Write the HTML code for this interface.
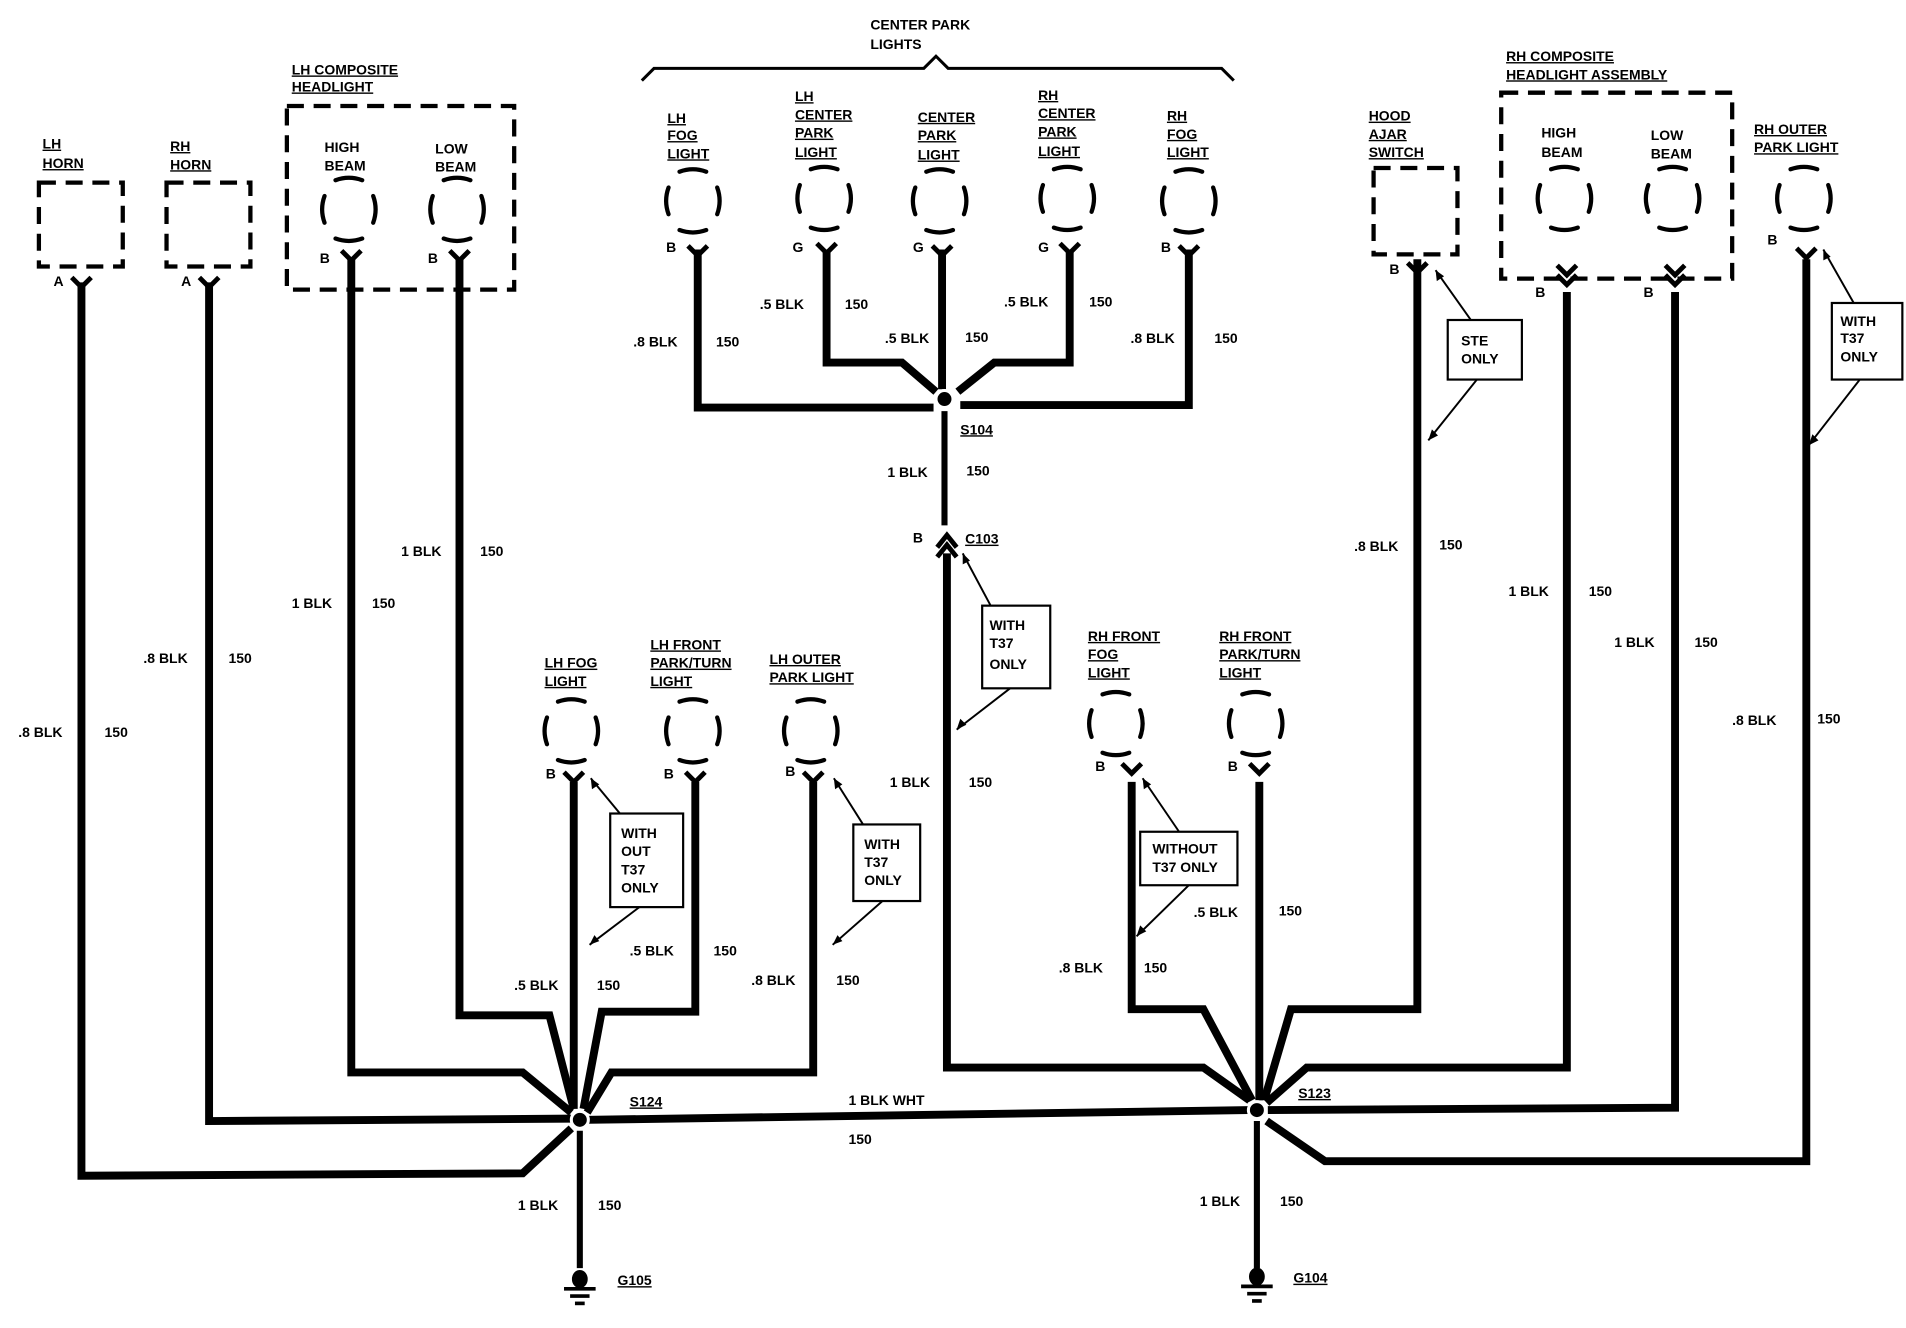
<!DOCTYPE html>
<html><head><meta charset="utf-8"><style>
html,body{margin:0;padding:0;background:#fff}
svg{display:block}
text{font-family:"Liberation Sans",sans-serif;font-weight:bold;font-size:11.5px;fill:#000}
</style></head><body>
<svg width="1906" height="1328" viewBox="0 0 1568 1092" xmlns="http://www.w3.org/2000/svg">
<defs>
<g id="b" fill="none" stroke="#000" stroke-width="3.5" stroke-linecap="round">
<path d="M-11,-24 Q0,-28 11,-24"/><path d="M-11,24 Q0,28 11,24"/>
<path d="M-20,-11 Q-24,0 -20,11"/><path d="M20,-11 Q24,0 20,11"/>
</g>
<path id="y" d="M-8,-8 L0,0 L8,-8" fill="none" stroke="#000" stroke-width="4"/>
</defs>
<rect width="1568" height="1092" fill="#fff"/>
<g fill="none" stroke="#000" stroke-width="6.5" stroke-linejoin="miter">
<!-- left -->
<polyline points="67,232 67,967 430,965 470,928"/>
<polyline points="172,232 172,922 470,920"/>
<polyline points="289,213 289,882 430,882 470,915"/>
<polyline points="378,213 378,835 452,835 472,912"/>
<polyline points="472,643 472,912"/>
<polyline points="572,643 572,832 495,832 480,912"/>
<polyline points="669,643 669,882 503,882 483,915"/>
<polyline points="484,921 1027,913"/>
<line x1="477" y1="930" x2="477" y2="1043" stroke-width="5"/>
<!-- center -->
<polyline points="574,205 574,335 768,335"/>
<polyline points="680,205 680,298 742,298 770,322"/>
<polyline points="775,205 775,320"/>
<polyline points="880,205 880,298 818,298 788,322"/>
<polyline points="978,205 978,333 790,333"/>
<line x1="777" y1="338" x2="777" y2="432" stroke-width="5"/>
<polyline points="779,455 779,878 990,878 1028,905"/>
<!-- right -->
<polyline points="931,643 931,830 990,830 1030,905"/>
<polyline points="1036,643 1036,905"/>
<polyline points="1166,213 1166,830 1062,830 1040,905"/>
<polyline points="1289,240 1289,878 1075,878 1042,907"/>
<polyline points="1378,240 1378,911 1043,913"/>
<polyline points="1486,213 1486,955 1090,955 1042,922"/>
<line x1="1034" y1="922" x2="1034" y2="1043" stroke-width="5"/>
</g>
<!-- splices -->
<circle cx="477" cy="921" r="7" fill="#000" stroke="#fff" stroke-width="2.5"/>
<circle cx="1034" cy="913" r="7" fill="#000" stroke="#fff" stroke-width="2.5"/>
<circle cx="777" cy="328" r="7" fill="#000" stroke="#fff" stroke-width="2.5"/>
<!-- C103 -->
<path d="M771,450 L779,440 L787,450" fill="none" stroke="#000" stroke-width="4"/>
<path d="M771,458 L779,448 L787,458" fill="none" stroke="#000" stroke-width="4"/>
<!-- grounds -->
<g stroke="#000" stroke-width="3">
<ellipse cx="477" cy="1052" rx="5" ry="6" fill="#000"/>
<line x1="464" y1="1060" x2="490" y2="1060"/><line x1="469" y1="1066" x2="485" y2="1066"/><line x1="473" y1="1072" x2="481" y2="1072"/>
<ellipse cx="1034" cy="1050" rx="5" ry="6" fill="#000"/>
<line x1="1021" y1="1058" x2="1047" y2="1058"/><line x1="1026" y1="1064" x2="1042" y2="1064"/><line x1="1030" y1="1070" x2="1038" y2="1070"/>
</g>
<!-- dashed boxes -->
<g fill="none" stroke="#000" stroke-width="3.5" stroke-dasharray="14,8">
<rect x="32" y="150" width="69" height="69"/>
<rect x="137" y="150" width="69" height="69"/>
<rect x="236" y="87" width="187" height="151"/>
<rect x="1130" y="138" width="69" height="71"/>
<rect x="1235" y="76" width="190" height="153"/>
</g>
<!-- bulbs -->
<use href="#b" x="287" y="172"/><use href="#b" x="376" y="172"/>
<use href="#b" x="570" y="165"/><use href="#b" x="678" y="163"/><use href="#b" x="773" y="165"/><use href="#b" x="878" y="163"/><use href="#b" x="978" y="165"/>
<use href="#b" x="1287" y="163"/><use href="#b" x="1376" y="163"/><use href="#b" x="1484" y="163"/>
<use href="#b" x="470" y="601"/><use href="#b" x="570" y="601"/><use href="#b" x="667" y="601"/>
<use href="#b" x="918" y="595"/><use href="#b" x="1033" y="595"/>
<!-- Y connectors -->
<use href="#y" x="67" y="236"/><use href="#y" x="172" y="236"/>
<use href="#y" x="289" y="214"/><use href="#y" x="378" y="214"/>
<use href="#y" x="574" y="210"/><use href="#y" x="680" y="208"/><use href="#y" x="775" y="210"/><use href="#y" x="880" y="208"/><use href="#y" x="978" y="210"/>
<use href="#y" x="1166" y="224"/><use href="#y" x="1289" y="226"/><use href="#y" x="1289" y="234"/><use href="#y" x="1378" y="226"/><use href="#y" x="1378" y="234"/><use href="#y" x="1486" y="212"/>
<use href="#y" x="472" y="643"/><use href="#y" x="572" y="643"/><use href="#y" x="669" y="643"/>
<use href="#y" x="931" y="636"/><use href="#y" x="1036" y="636"/>
<!-- brace -->
<path d="M528,66 L538,56 L760,56 L770,46 L780,56 L1005,56 L1015,66" fill="none" stroke="#000" stroke-width="2.5"/>
<!-- note boxes -->
<g fill="#fff" stroke="#000" stroke-width="1.8">
<rect x="502" y="669" width="60" height="77"/>
<rect x="702" y="678" width="55" height="63"/>
<rect x="808" y="498" width="56" height="68"/>
<rect x="938" y="684" width="80" height="44"/>
<rect x="1191" y="263" width="61" height="49"/>
<rect x="1507" y="249" width="58" height="63"/>
</g>
<g fill="none" stroke="#000" stroke-width="1.6">
<path d="M486,640 L510,669"/><path d="M526,746 L485,777"/>
<path d="M686,640 L710,678"/><path d="M726,741 L685,777"/>
<path d="M792,455 L815,498"/><path d="M831,566 L787,600"/>
<path d="M940,640 L970,684"/><path d="M978,728 L935,770"/>
<path d="M1181,222 L1210,263"/><path d="M1215,312 L1175,362"/>
<path d="M1500,205 L1525,249"/><path d="M1530,312 L1488,366"/>
</g>
<g fill="#000">
<path d="M486,640 l1,9 l6,-4z"/><path d="M485,777 l4,-8 l4,5z"/>
<path d="M686,640 l1,9 l6,-4z"/><path d="M685,777 l4,-8 l4,5z"/>
<path d="M792,455 l0,9 l6,-3z"/><path d="M787,600 l3,-9 l5,5z"/>
<path d="M940,640 l1,9 l6,-4z"/><path d="M935,770 l3,-9 l5,5z"/>
<path d="M1181,222 l1,9 l6,-4z"/><path d="M1175,362 l3,-9 l5,5z"/>
<path d="M1500,205 l0,9 l6,-3z"/><path d="M1488,366 l3,-9 l5,5z"/>
</g>
<g>
<text x="511" y="689">WITH</text><text x="511" y="704">OUT</text><text x="511" y="719">T37</text><text x="511" y="734">ONLY</text>
<text x="711" y="698">WITH</text><text x="711" y="713">T37</text><text x="711" y="728">ONLY</text>
<text x="814" y="518">WITH</text><text x="814" y="533">T37</text><text x="814" y="550">ONLY</text>
<text x="948" y="702">WITHOUT</text><text x="948" y="717">T37 ONLY</text>
<text x="1202" y="284">STE</text><text x="1202" y="299">ONLY</text>
<text x="1514" y="268">WITH</text><text x="1514" y="282">T37</text><text x="1514" y="297">ONLY</text>
</g>
<!-- titles -->
<g text-decoration="underline">
<text x="35" y="122" style="text-decoration:none">LH</text><text x="35" y="138">HORN</text>
<text x="140" y="124" style="text-decoration:none">RH</text><text x="140" y="139">HORN</text>
<text x="240" y="61">LH COMPOSITE</text><text x="240" y="75">HEADLIGHT</text>
<text x="549" y="101" style="text-decoration:none">LH</text><text x="549" y="115" style="text-decoration:none">FOG</text><text x="549" y="130">LIGHT</text>
<text x="654" y="83" style="text-decoration:none">LH</text><text x="654" y="98" style="text-decoration:none">CENTER</text><text x="654" y="113" style="text-decoration:none">PARK</text><text x="654" y="129">LIGHT</text>
<text x="755" y="100" style="text-decoration:none">CENTER</text><text x="755" y="115" style="text-decoration:none">PARK</text><text x="755" y="131">LIGHT</text>
<text x="854" y="82" style="text-decoration:none">RH</text><text x="854" y="97" style="text-decoration:none">CENTER</text><text x="854" y="112" style="text-decoration:none">PARK</text><text x="854" y="128">LIGHT</text>
<text x="960" y="99" style="text-decoration:none">RH</text><text x="960" y="114" style="text-decoration:none">FOG</text><text x="960" y="129">LIGHT</text>
<text x="1126" y="99" style="text-decoration:none">HOOD</text><text x="1126" y="114" style="text-decoration:none">AJAR</text><text x="1126" y="129">SWITCH</text>
<text x="1239" y="50">RH COMPOSITE</text><text x="1239" y="65">HEADLIGHT ASSEMBLY</text>
<text x="1443" y="110">RH OUTER</text><text x="1443" y="125">PARK LIGHT</text>
<text x="448" y="549">LH FOG</text><text x="448" y="564">LIGHT</text>
<text x="535" y="534" style="text-decoration:none">LH FRONT</text><text x="535" y="549">PARK/TURN</text><text x="535" y="564">LIGHT</text>
<text x="633" y="546">LH OUTER</text><text x="633" y="561">PARK LIGHT</text>
<text x="895" y="527" style="text-decoration:none">RH FRONT</text><text x="895" y="542" style="text-decoration:none">FOG</text><text x="895" y="557">LIGHT</text>
<text x="1003" y="527" style="text-decoration:none">RH FRONT</text><text x="1003" y="542">PARK/TURN</text><text x="1003" y="557">LIGHT</text>
<text x="518" y="910">S124</text><text x="1068" y="903">S123</text><text x="790" y="357">S104</text><text x="794" y="447">C103</text>
<text x="508" y="1057">G105</text><text x="1064" y="1055">G104</text>
</g>
<g>
<text x="716" y="24">CENTER PARK</text><text x="716" y="40">LIGHTS</text>
<text x="267" y="125">HIGH</text><text x="267" y="140">BEAM</text>
<text x="358" y="126">LOW</text><text x="358" y="141">BEAM</text>
<text x="1268" y="113">HIGH</text><text x="1268" y="129">BEAM</text>
<text x="1358" y="115">LOW</text><text x="1358" y="130">BEAM</text>
<text x="44" y="235" font-size="9">A</text><text x="149" y="235" font-size="9">A</text>
<text x="263" y="216" font-size="9">B</text><text x="352" y="216" font-size="9">B</text>
<text x="548" y="207" font-size="9">B</text><text x="652" y="207" font-size="9">G</text><text x="751" y="207" font-size="9">G</text><text x="854" y="207" font-size="9">G</text><text x="955" y="207" font-size="9">B</text>
<text x="1143" y="225" font-size="9">B</text><text x="1263" y="244" font-size="9">B</text><text x="1352" y="244" font-size="9">B</text><text x="1454" y="201" font-size="9">B</text>
<text x="449" y="640" font-size="9">B</text><text x="546" y="640" font-size="9">B</text><text x="646" y="638" font-size="9">B</text>
<text x="901" y="634" font-size="9">B</text><text x="1010" y="634" font-size="9">B</text><text x="751" y="446" font-size="9">B</text>
<text x="15" y="606">.8 BLK</text><text x="86" y="606">150</text>
<text x="118" y="545">.8 BLK</text><text x="188" y="545">150</text>
<text x="240" y="500">1 BLK</text><text x="306" y="500">150</text>
<text x="330" y="457">1 BLK</text><text x="395" y="457">150</text>
<text x="521" y="285">.8 BLK</text><text x="589" y="285">150</text>
<text x="625" y="254">.5 BLK</text><text x="695" y="254">150</text>
<text x="728" y="282">.5 BLK</text><text x="794" y="281">150</text>
<text x="826" y="252">.5 BLK</text><text x="896" y="252">150</text>
<text x="930" y="282">.8 BLK</text><text x="999" y="282">150</text>
<text x="730" y="392">1 BLK</text><text x="795" y="391">150</text>
<text x="732" y="647">1 BLK</text><text x="797" y="647">150</text>
<text x="423" y="814">.5 BLK</text><text x="491" y="814">150</text>
<text x="518" y="786">.5 BLK</text><text x="587" y="786">150</text>
<text x="618" y="810">.8 BLK</text><text x="688" y="810">150</text>
<text x="871" y="800">.8 BLK</text><text x="941" y="800">150</text>
<text x="982" y="754">.5 BLK</text><text x="1052" y="753">150</text>
<text x="1114" y="453">.8 BLK</text><text x="1184" y="452">150</text>
<text x="1241" y="490">1 BLK</text><text x="1307" y="490">150</text>
<text x="1328" y="532">1 BLK</text><text x="1394" y="532">150</text>
<text x="1425" y="596">.8 BLK</text><text x="1495" y="595">150</text>
<text x="698" y="909">1 BLK WHT</text><text x="698" y="941">150</text>
<text x="426" y="995">1 BLK</text><text x="492" y="995">150</text>
<text x="987" y="992">1 BLK</text><text x="1053" y="992">150</text>
</g>
</svg>
</body></html>
